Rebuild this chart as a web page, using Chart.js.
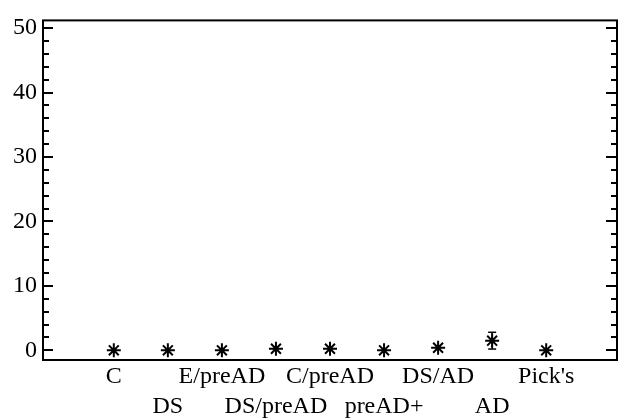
<!DOCTYPE html>
<html>
<head>
<meta charset="utf-8">
<script src="https://cdn.jsdelivr.net/npm/chart.js@4"></script>
<style>
  html, body { margin: 0; padding: 0; background: #fff; }
  #wrap { width: 626px; height: 420px; position: relative; }
</style>
</head>
<body>
<div id="wrap"><canvas id="chart"></canvas></div>
<script>
// values
const categories = ["C", "DS", "E/preAD", "DS/preAD", "C/preAD", "preAD+", "DS/AD", "AD", "Pick's"];
const means = [0, 0, 0, 0.25, 0.25, 0, 0.4, 1.5, 0];
const errors = [0, 0, 0, 0, 0, 0, 0, 1.3, 0];
const yTicks = [0, 10, 20, 30, 40, 50];
const yMinorTicks = [2, 4, 6, 8, 12, 14, 16, 18, 22, 24, 26, 28, 32, 34, 36, 38, 42, 44, 46, 48];

const font = { family: "'Liberation Serif', 'DejaVu Serif', serif", size: 24 };

// box, inward ticks on both sides, error bars
const frame = {
  id: "frame",
  afterDatasetsDraw(chart) {
    const { ctx, chartArea: a, scales: { x, y } } = chart;
    const line = (x1, y1, x2, y2) => {
      ctx.beginPath(); ctx.moveTo(x1, y1); ctx.lineTo(x2, y2); ctx.stroke();
    };
    ctx.save();
    ctx.strokeStyle = "#000";

    ctx.lineWidth = 1.5;
    means.forEach((m, i) => {
      if (!errors[i]) return;
      const px = x.getPixelForValue(i + 1);
      const hi = y.getPixelForValue(m + errors[i]);
      const lo = y.getPixelForValue(m - errors[i]);
      line(px, hi, px, lo);
      line(px - 4, hi, px + 4, hi);
      line(px - 4, lo, px + 4, lo);
    });

    ctx.lineWidth = 2;
    yTicks.forEach(v => {
      const py = Math.round(y.getPixelForValue(v));
      line(a.left, py, a.left + 10, py);
      line(a.right, py, a.right - 11, py);
    });
    yMinorTicks.forEach(v => {
      const py = Math.round(y.getPixelForValue(v));
      line(a.left, py, a.left + 6, py);
      line(a.right, py, a.right - 6, py);
    });
    ctx.strokeRect(a.left, a.top, a.right - a.left, a.bottom - a.top);
    ctx.restore();
  }
};

new Chart(document.getElementById("chart"), {
  type: "scatter",
  data: {
    datasets: [{
      data: means.map((m, i) => ({ x: i + 1, y: m })),
      pointStyle: "star",
      radius: 7,
      borderWidth: 2,
      borderColor: "#000",
      backgroundColor: "#000",
    }],
  },
  options: {
    responsive: true,
    maintainAspectRatio: false,
    animation: false,
    layout: { padding: { top: 11, right: 9, left: 0, bottom: 0 } },
    plugins: { legend: { display: false }, tooltip: { enabled: false } },
    scales: {
      x: {
        type: "linear",
        min: -0.31,
        max: 10.31,
        afterBuildTicks: (s) => { s.ticks = categories.map((c, i) => ({ value: i + 1 })); },
        afterFit: (s) => { s.height = 60; },
        grid: { display: false, drawTicks: false },
        border: { display: false },
        ticks: {
          autoSkip: false,
          maxRotation: 0,
          color: "#000",
          font: { ...font, lineHeight: 1.25 },
          padding: 2,
          callback: (v) => {
            const i = Math.round(v) - 1;
            return i % 2 === 0 ? [categories[i], ""] : ["", categories[i]];
          },
        },
      },
      y: {
        min: -1.5,
        max: 51.2,
        afterBuildTicks: (s) => { s.ticks = yTicks.map(v => ({ value: v })); },
        afterFit: (s) => { s.width = 43; },
        grid: { display: false, drawTicks: false },
        border: { display: false },
        ticks: { color: "#000", font, padding: 6 },
      },
    },
  },
  plugins: [frame],
});
</script>
</body>
</html>
